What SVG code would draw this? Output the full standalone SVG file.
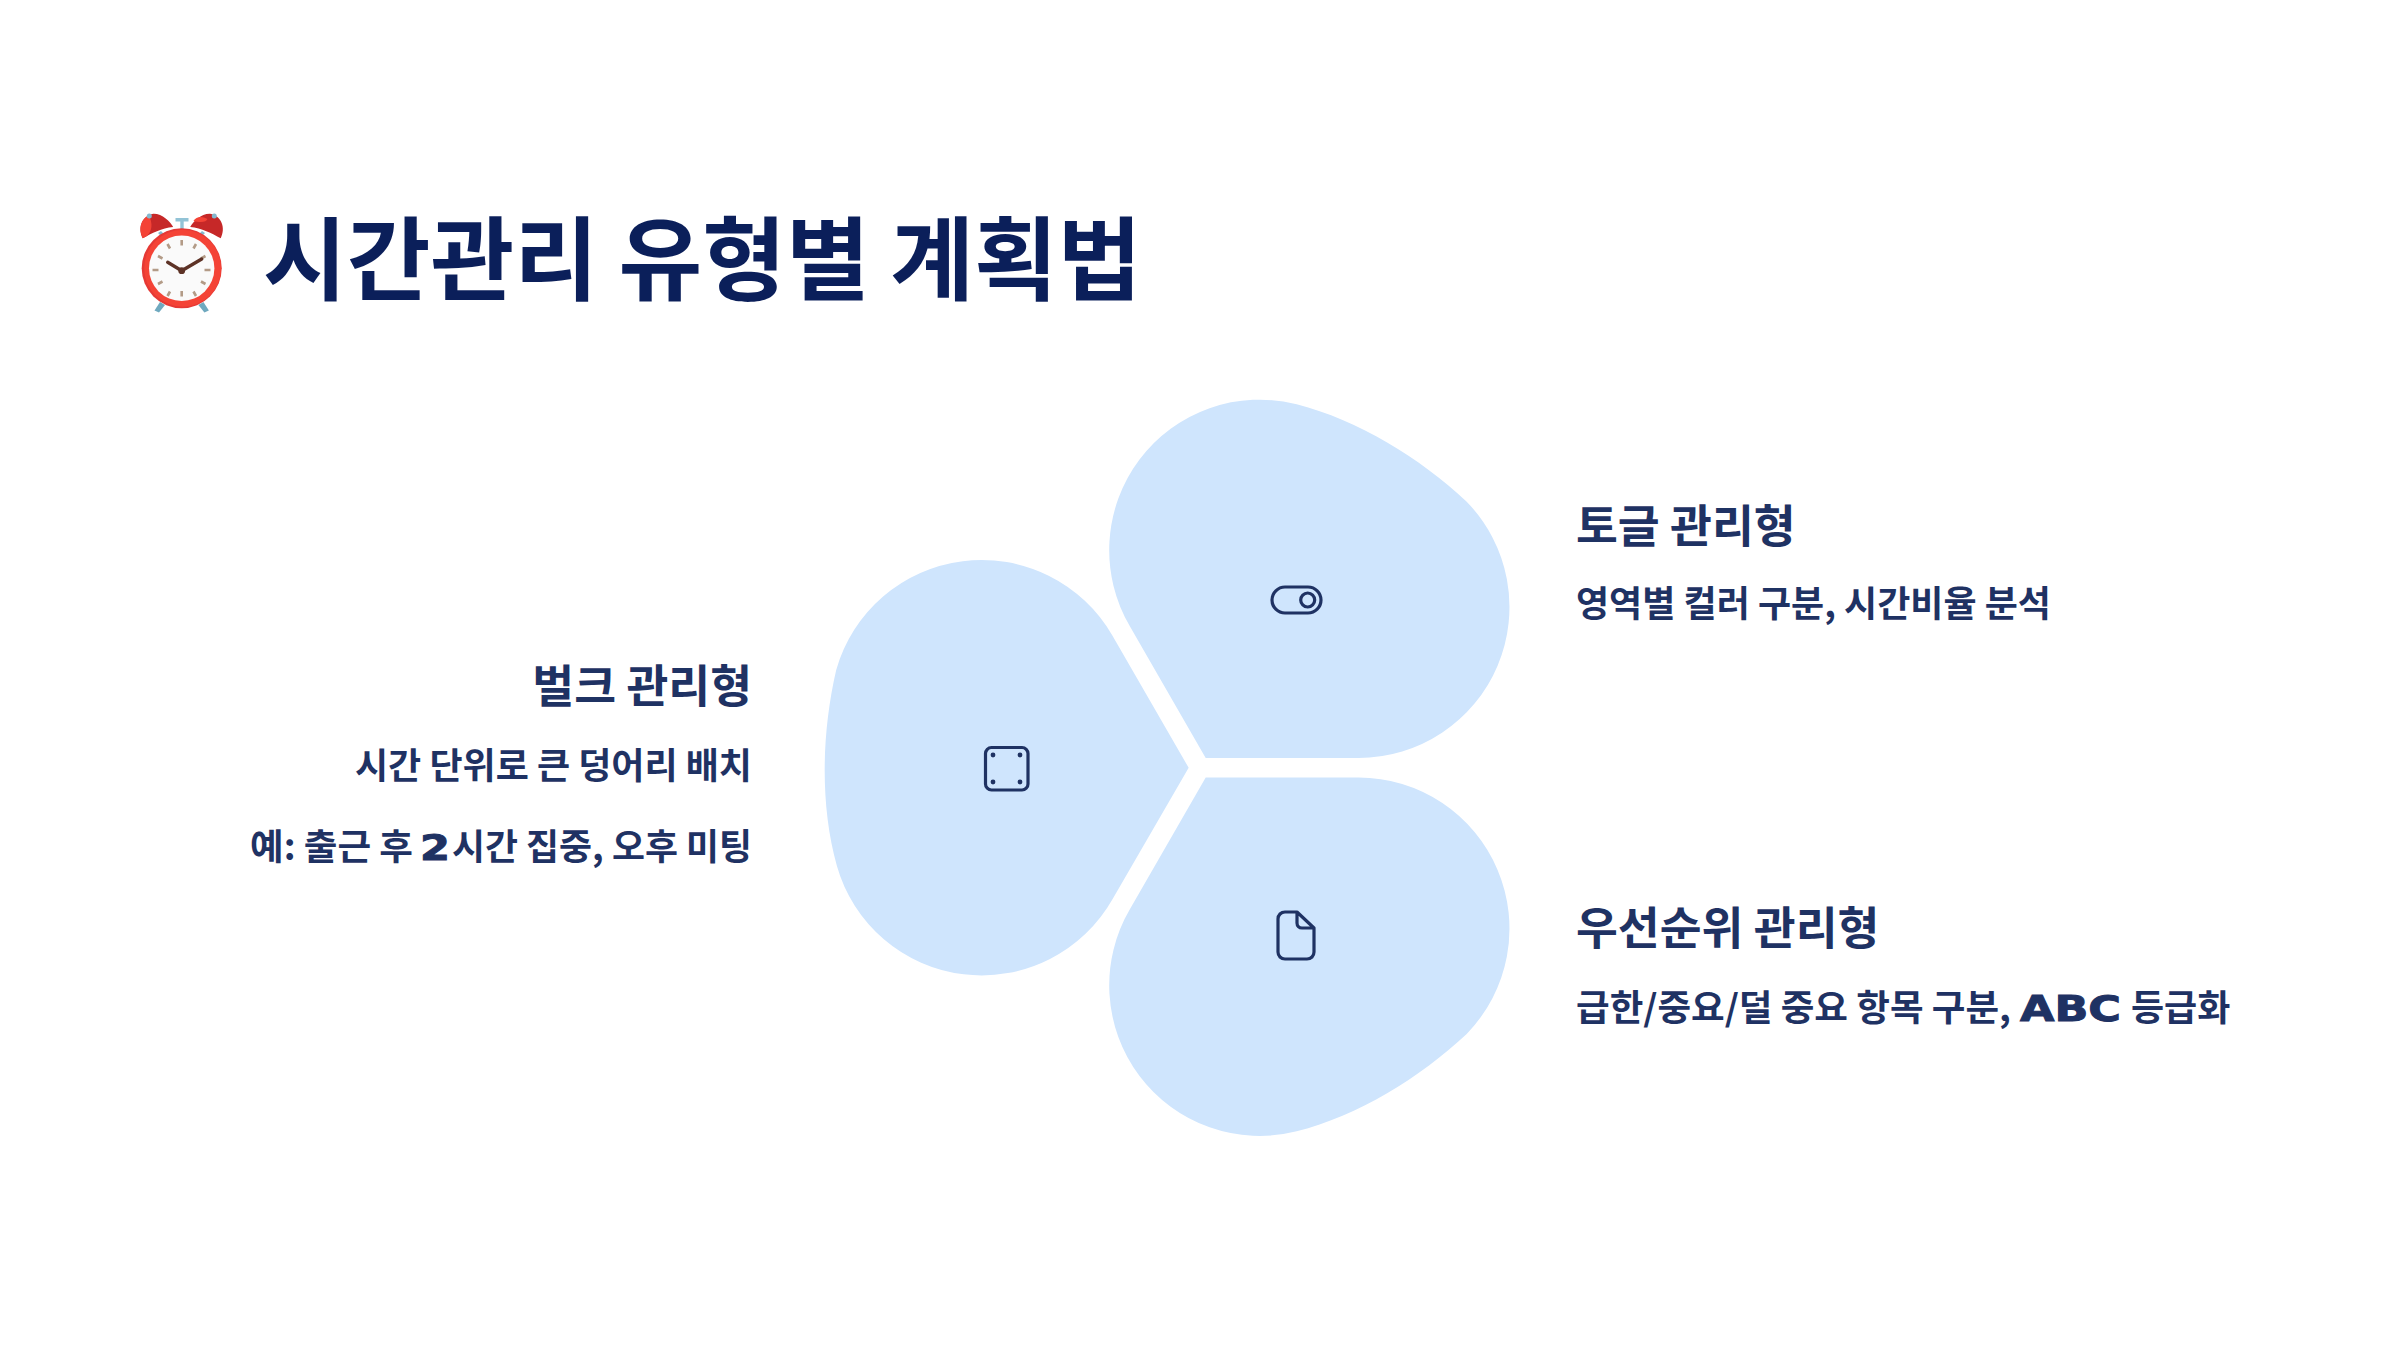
<svg xmlns="http://www.w3.org/2000/svg" width="2400" height="1350" viewBox="0 0 2400 1350">
<style>
text{font-family:"Noto Sans CJK KR","Noto Sans",sans-serif;font-weight:700;fill:#1f3263}
.t{font-size:91px;fill:#0b1f5a}
.h{font-size:45.5px}
.b{font-size:36px}
.w{font-family:"DejaVu Sans",sans-serif;font-weight:700;stroke:#1f3263;stroke-width:1}
.i{fill:none;stroke:#1f3263;stroke-width:3.2;stroke-linejoin:round}
.d{fill:#1f3263}
.p{fill:#cfe5fd}
</style>
<defs>
<path id="blob" class="p" d="M1205.700 758L1358.600 758A151 151 0 0 0 1466.700 501.700C1420 458 1358 420 1296.700 404.300A150.500 150.500 0 0 0 1130 626.500Z"/>
<path id="bell" d="M142.700 238.300C137.500 228 141.700 216 153.300 213.800C162 213.500 170.500 221.700 173.200 227C161.700 228 151.700 233.300 142.700 238.300Z" fill="#c62828"/>
</defs>
<rect width="2400" height="1350" fill="#fff"/>
<g id="title">
<g id="clock">
<path d="M158 233l3 -2 3 3-3 2zM205 233l-3 -2-3 3 3 2z" fill="#84b9cf"/>
<path d="M160 302L165 305L159 312.500L154.500 310.500Z" fill="#6fa9bf"/>
<path d="M203.400 302L198.400 305L204.400 312.500L208.900 310.500Z" fill="#6fa9bf"/>
<use href="#bell"/>
<path d="M142.700 238.300C138 228 141 219 149 215.500C153 224 152 231 147 236Z" fill="#f44336"/>
<g transform="matrix(-1 0 0 1 363.400 0)"><use href="#bell"/>
<path d="M161 221C158 216 152 216 147 219C148 222 153 223 161 221Z" fill="#f44336" transform="translate(9 0)"/></g>
<circle cx="149.300" cy="216" r="2.500" fill="#84b9cf"/><circle cx="214.300" cy="216" r="2.500" fill="#84b9cf"/>
<path d="M175.500 218h13v3.500h-4.800v8.500h-3.400v-8.500h-4.800z" fill="#92c3d6"/>
<circle cx="181.700" cy="268.300" r="40" fill="#e53935"/>
<circle cx="182.700" cy="268.300" r="38.500" fill="#f44336"/>
<circle cx="181.700" cy="268.300" r="32.700" fill="#fafafa"/>
<g stroke="#b39b87" stroke-width="2.600">
<path d="M181.700 240v5.500M181.700 291v5.500M152.500 270h6M204.500 270h6M167.500 244l2.500 4.500M196 244l-2.500 4.500M158 256l4.500 2.500M205.500 256l-4.500 2.500M158 284l4.500-2.500M205.500 284l-4.500-2.500M167.500 296l2.500-4.500M196 296l-2.500-4.500"/>
</g>
<path d="M167.700 262.300L181.700 270.700L201.700 259" fill="none" stroke="#5d3226" stroke-width="3.400" stroke-linecap="round" stroke-linejoin="round"/>
<circle cx="181.700" cy="270.700" r="3.400" fill="#5d3226"/>
</g>
<text class="t" x="263" y="293">시간관리 유형별 계획법</text>
</g>
<g id="connectors"></g>
<g id="node-toggle">
<use href="#blob"/>
<rect class="i" x="1272" y="587" width="49" height="26" rx="13"/>
<circle class="i" cx="1307.700" cy="600" r="7"/>
<text class="h" x="1576" y="543">토글 관리형</text>
<text class="b" x="1576" y="617">영역별 컬러 구분, 시간비율 분석</text>
</g>
<g id="node-bulk">
<use href="#blob" transform="rotate(-120 1200 767.800)"/>
<rect class="i" x="985.500" y="747.500" width="42.500" height="42.500" rx="6"/>
<circle class="d" cx="993" cy="755" r="2.400"/><circle class="d" cx="1020" cy="755" r="2.400"/>
<circle class="d" cx="993" cy="782" r="2.400"/><circle class="d" cx="1020" cy="782" r="2.400"/>
<text class="h" x="752" y="703" text-anchor="end">벌크 관리형</text>
<text class="b" x="752" y="779" text-anchor="end">시간 단위로 큰 덩어리 배치</text>
<text class="b" x="250" y="860" textLength="163" lengthAdjust="spacingAndGlyphs">예: 출근 후</text>
<text class="b w" x="420" y="860" textLength="30" lengthAdjust="spacingAndGlyphs">2</text>
<text class="b" x="452" y="860" textLength="300" lengthAdjust="spacingAndGlyphs">시간 집중, 오후 미팅</text>
</g>
<g id="node-priority">
<use href="#blob" transform="matrix(1 0 0 -1 0 1535.600)"/>
<path class="i" d="M1297 912H1285C1281 912 1278 915 1278 919V952C1278 956 1281 959 1285 959H1307C1311 959 1314 956 1314 952V928L1297 912ZV923C1297 926 1299 928 1302 928H1314"/>
<text class="h" x="1576" y="945">우선순위 관리형</text>
<text class="b" x="1576" y="1021" textLength="435" lengthAdjust="spacingAndGlyphs">급한/중요/덜 중요 항목 구분,</text>
<text class="b w" x="2020" y="1021" textLength="101" lengthAdjust="spacingAndGlyphs">ABC</text>
<text class="b" x="2131" y="1021">등급화</text>
</g>
</svg>
